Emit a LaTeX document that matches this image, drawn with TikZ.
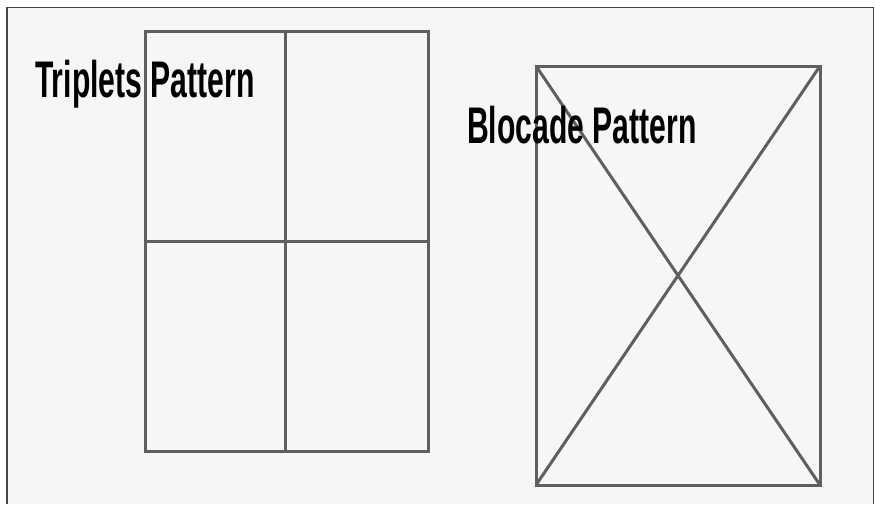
\documentclass[tikz,border=0pt]{standalone}
\usepackage{fontspec}
\usepackage{xcolor}
\usepackage{tikz}
\newfontfamily\patternfont{Liberation Sans}[FakeStretch=0.585]
\definecolor{patline}{RGB}{95,95,95}
\definecolor{patbg}{RGB}{246,246,246}
\definecolor{patframe}{RGB}{70,70,70}

\begin{document}
\begin{tikzpicture}[x=1pt, y=-1pt, every node/.style={font=\patternfont\bfseries\fontsize{51.5}{52}\selectfont}]
    \useasboundingbox (0,0) rectangle (875,504);
    \fill[patbg] (7,7) rectangle (873,504);

    \draw[patframe, line width=1pt] (873,504) -- (873,7.5) -- (7,7.5);
    \draw[patframe, line width=2pt] (7,7) -- (7,504);

    % Triplets: one frame split in four
    \draw[patline, line width=3pt] (145,31) rectangle (428,451);
    \draw[patline, line width=3pt] (145,241) -- (428,241);
    \draw[patline, line width=3pt] (285,31) -- (285,451);

    % Blocade: one frame crossed corner to corner
    \draw[patline, line width=3pt] (536,66) rectangle (820,485);
    \draw[patline, line width=3pt] (536,66) -- (820,485);
    \draw[patline, line width=3pt] (820,66) -- (536,485);

    \node[anchor=base west, inner sep=0pt] (triplets) at (35,97) {Triplets Pattern};
    \node[anchor=base west, inner sep=0pt] (blocade) at (467,143) {Blocade Pattern};
\end{tikzpicture}
\end{document}
